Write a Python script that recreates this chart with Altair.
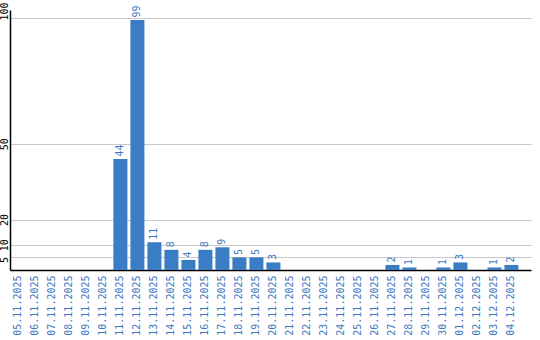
import altair as alt
import pandas as pd

dates = ["05.11.2025", "06.11.2025", "07.11.2025", "08.11.2025", "09.11.2025",
         "10.11.2025", "11.11.2025", "12.11.2025", "13.11.2025", "14.11.2025",
         "15.11.2025", "16.11.2025", "17.11.2025", "18.11.2025", "19.11.2025",
         "20.11.2025", "21.11.2025", "22.11.2025", "23.11.2025", "24.11.2025",
         "25.11.2025", "26.11.2025", "27.11.2025", "28.11.2025", "29.11.2025",
         "30.11.2025", "01.12.2025", "02.12.2025", "03.12.2025", "04.12.2025"]
counts = [0, 0, 0, 0, 0, 0, 44, 99, 11, 8, 4, 8, 9, 5, 5, 3,
          0, 0, 0, 0, 0, 0, 2, 1, 0, 1, 3, 0, 1, 2]
y_ticks = [5, 10, 20, 50, 100]

df = pd.DataFrame({"date": dates, "count": counts})

BAR = "#3b7dc4"
TXT = "#3b78c0"
FONT = "DejaVu Sans Mono"

x = alt.X("date:N", sort=dates, title=None,
          scale=alt.Scale(paddingInner=0.176, paddingOuter=0.41, align=0.1),
          axis=alt.Axis(labelAngle=270, labelAlign="right", labelBaseline="middle",
                        labelFont=FONT, labelFontSize=10, labelColor=TXT,
                        labelPadding=5, ticks=False, tickSize=0,
                        domainColor="black", domainWidth=1.5, grid=False,
                        labelOverlap=False))
y = alt.Y("count:Q", title=None,
          scale=alt.Scale(domain=[0, 103], nice=False),
          axis=alt.Axis(values=y_ticks, labelAngle=270, labelAlign="center",
                        labelBaseline="alphabetic", labelFont=FONT, labelFontSize=10,
                        labelColor="black", labelPadding=2.5, ticks=False, tickSize=0,
                        domainColor="black", domainWidth=1.5,
                        grid=True, gridColor="#c8c8c8", gridWidth=1,
                        labelOverlap=False,
                        labelOffset={"condition": [
                            {"test": "datum.value == 100", "value": -6.5},
                            {"test": "datum.value == 5", "value": 2}],
                            "value": 0}))

bars = alt.Chart(df).mark_bar(color=BAR).encode(x=x, y=y)

labels = alt.Chart(df).transform_filter("datum.count > 0").mark_text(
    angle=270, align="left", baseline="middle", dx=2.5,
    font=FONT, fontSize=10, color=TXT
).encode(x=alt.X("date:N", sort=dates), y="count:Q", text="count:Q")

chart = (bars + labels).properties(
    width=521, height=260,
    padding={"left": 10, "top": 10, "right": 9, "bottom": 70},
    autosize=alt.AutoSizeParams(type="none"),
).configure_view(stroke="transparent")

chart.save("out.html", embed_options={"renderer": "svg", "actions": False})
